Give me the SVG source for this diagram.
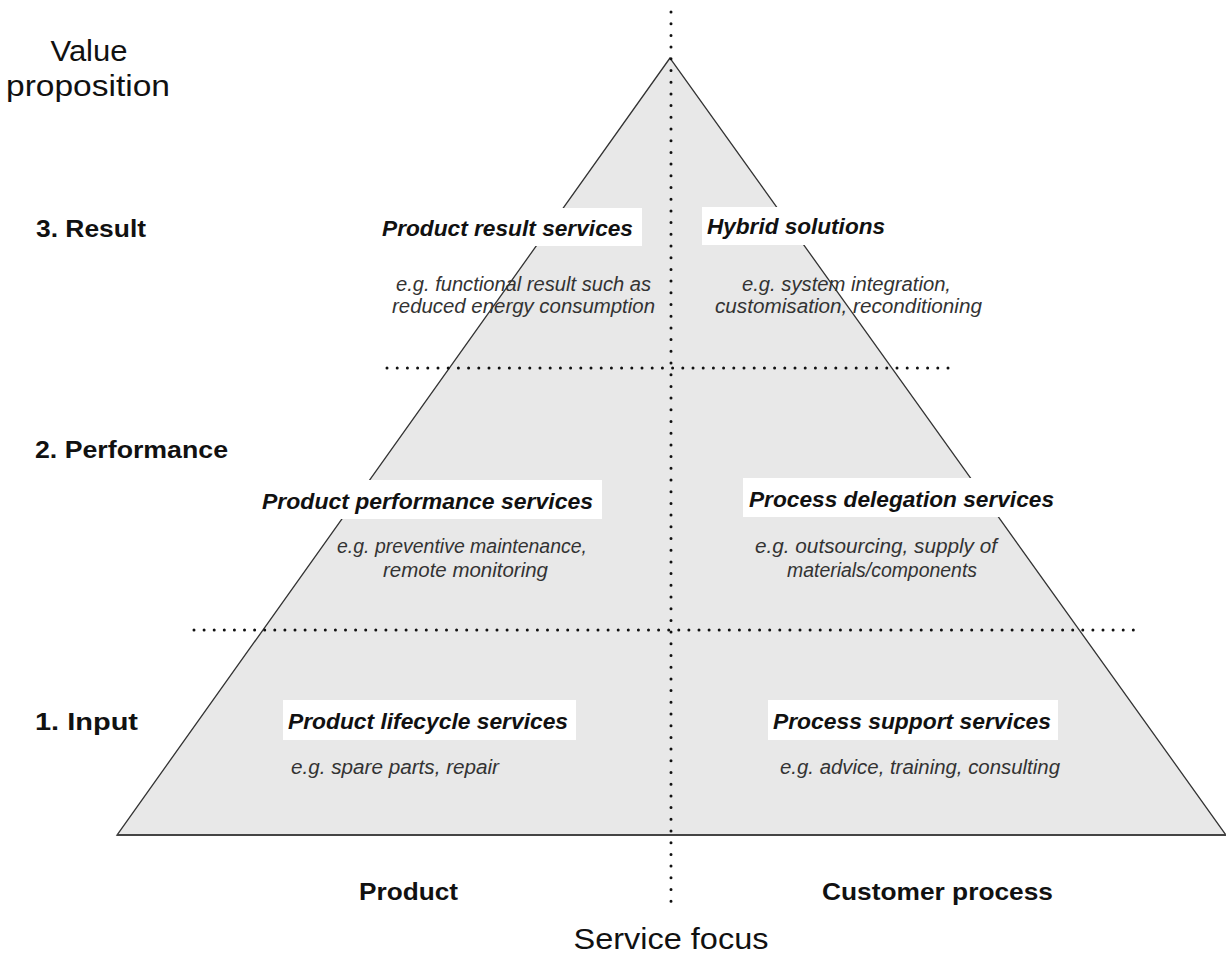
<svg xmlns="http://www.w3.org/2000/svg" width="1226" height="962" viewBox="0 0 1226 962">
<style>
.axis{font-family:"Liberation Sans",Arial,sans-serif;font-size:29px;fill:#111}
.lvl{font-family:"Liberation Sans",Arial,sans-serif;font-size:24px;font-weight:bold;fill:#111}
.ttl{font-family:"Liberation Sans",Arial,sans-serif;font-size:21.5px;font-weight:bold;font-style:italic;fill:#111}
.dsc{font-family:"Liberation Sans",Arial,sans-serif;font-size:19.5px;font-style:italic;fill:#333}
.box{fill:#fff}
.dot{stroke:#111;stroke-width:3;stroke-linecap:round;fill:none}
</style>
<rect width="1226" height="962" fill="#fff"/>
<g id="pyramid">
<polygon points="670,58 117,835 1226,835" fill="#e8e8e8" stroke="#333" stroke-width="1.3"/>
<line x1="117" y1="835" x2="1226" y2="835" stroke="#444" stroke-width="2.2"/>
</g>
<g id="connectors">
<line class="dot" x1="671" y1="12" x2="671" y2="904" stroke-dasharray="0 11.7"/>
<line class="dot" x1="387" y1="368" x2="958" y2="368" stroke-dasharray="0 10.2"/>
<line class="dot" x1="194" y1="630" x2="1134" y2="630" stroke-dasharray="0 10.1"/>
</g>
<g id="axis-labels">
<text class="axis" x="89" y="61" text-anchor="middle" textLength="77" lengthAdjust="spacingAndGlyphs">Value</text>
<text class="axis" x="88" y="96" text-anchor="middle" textLength="164" lengthAdjust="spacingAndGlyphs">proposition</text>
<text class="axis" x="671" y="949" text-anchor="middle" textLength="195" lengthAdjust="spacingAndGlyphs">Service focus</text>
</g>
<g id="level-result"><text class="lvl" x="36" y="237" textLength="110" lengthAdjust="spacingAndGlyphs">3. Result</text></g>
<g id="level-performance"><text class="lvl" x="35" y="458" textLength="193" lengthAdjust="spacingAndGlyphs">2. Performance</text></g>
<g id="level-input"><text class="lvl" x="35" y="730" textLength="103" lengthAdjust="spacingAndGlyphs">1. Input</text></g>
<g id="col-product"><text class="lvl" x="359" y="900" textLength="99" lengthAdjust="spacingAndGlyphs">Product</text></g>
<g id="col-customer"><text class="lvl" x="822" y="900" textLength="231" lengthAdjust="spacingAndGlyphs">Customer process</text></g>

<g id="product-result">
<rect class="box" x="377" y="208" width="265" height="38"/>
<text class="ttl" x="382" y="236" textLength="251" lengthAdjust="spacingAndGlyphs">Product result services</text>
<text class="dsc" x="396" y="291" textLength="255" lengthAdjust="spacingAndGlyphs">e.g. functional result such as</text>
<text class="dsc" x="392" y="313" textLength="263" lengthAdjust="spacingAndGlyphs">reduced energy consumption</text>
</g>
<g id="hybrid">
<rect class="box" x="702" y="207" width="188" height="38"/>
<text class="ttl" x="707" y="234" textLength="178" lengthAdjust="spacingAndGlyphs">Hybrid solutions</text>
<text class="dsc" x="742" y="291" textLength="209" lengthAdjust="spacingAndGlyphs">e.g. system integration,</text>
<text class="dsc" x="715" y="313" textLength="267" lengthAdjust="spacingAndGlyphs">customisation, reconditioning</text>
</g>
<g id="product-performance">
<rect class="box" x="257" y="480" width="345" height="39"/>
<text class="ttl" x="262" y="509" textLength="331" lengthAdjust="spacingAndGlyphs">Product performance services</text>
<text class="dsc" x="337" y="553" textLength="250" lengthAdjust="spacingAndGlyphs">e.g. preventive maintenance,</text>
<text class="dsc" x="383" y="577" textLength="165" lengthAdjust="spacingAndGlyphs">remote monitoring</text>
</g>
<g id="process-delegation">
<rect class="box" x="743" y="478" width="322" height="39"/>
<text class="ttl" x="749" y="507" textLength="305" lengthAdjust="spacingAndGlyphs">Process delegation services</text>
<text class="dsc" x="755" y="553" textLength="242" lengthAdjust="spacingAndGlyphs">e.g. outsourcing, supply of</text>
<text class="dsc" x="787" y="577" textLength="190" lengthAdjust="spacingAndGlyphs">materials/components</text>
</g>
<g id="product-lifecycle">
<rect class="box" x="283" y="700" width="293" height="40"/>
<text class="ttl" x="288" y="729" textLength="280" lengthAdjust="spacingAndGlyphs">Product lifecycle services</text>
<text class="dsc" x="291" y="774" textLength="208" lengthAdjust="spacingAndGlyphs">e.g. spare parts, repair</text>
</g>
<g id="process-support">
<rect class="box" x="768" y="700" width="290" height="40"/>
<text class="ttl" x="773" y="729" textLength="278" lengthAdjust="spacingAndGlyphs">Process support services</text>
<text class="dsc" x="780" y="774" textLength="280" lengthAdjust="spacingAndGlyphs">e.g. advice, training, consulting</text>
</g>
</svg>
